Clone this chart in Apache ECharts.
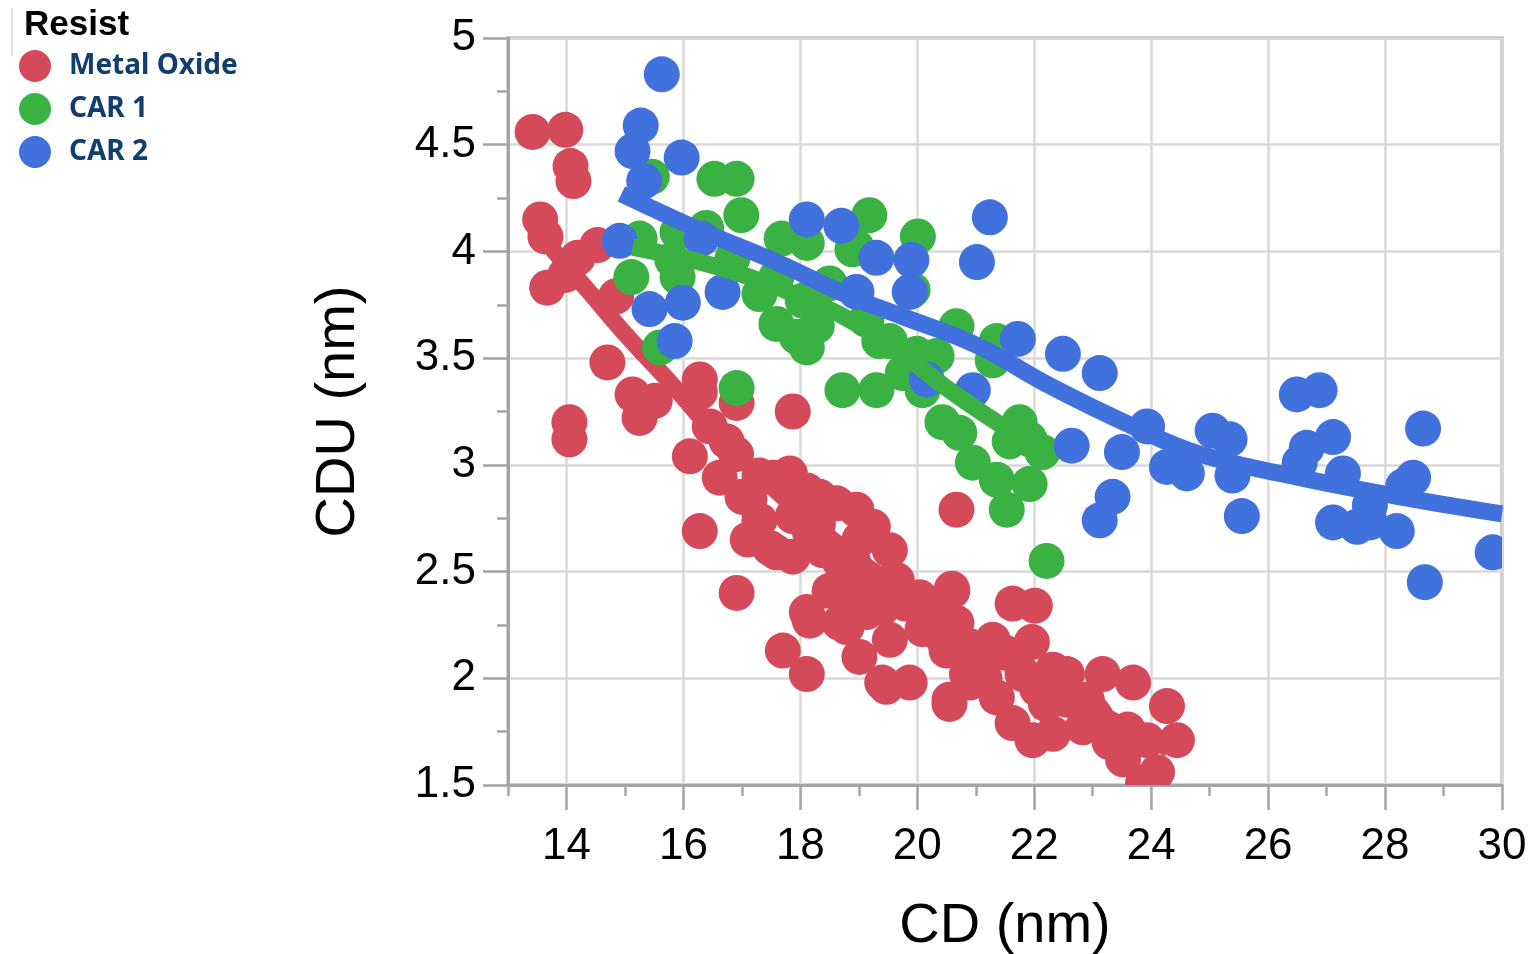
<!DOCTYPE html>
<html>
<head>
<meta charset="utf-8">
<script src="https://cdn.jsdelivr.net/npm/echarts@6/dist/echarts.min.js"></script>
<style>
html,body{margin:0;padding:0;background:#ffffff;}
#chart{width:1537px;height:954px;}
</style>
</head>
<body>
<div id="chart"></div>
<script>
// ---------- data ----------
const legendTitle = 'Resist';
const seriesNames = ['Metal Oxide', 'CAR 1', 'CAR 2'];
const xAxisTitle = 'CD (nm)';
const yAxisTitle = 'CDU (nm)';

const xMajorTicks = [14, 16, 18, 20, 22, 24, 26, 28, 30];
const xMinorTicks = [13, 15, 17, 19, 21, 23, 25, 27, 29];

const metalOxide = [
  [13.42,4.56],[13.98,4.57],[14.07,4.40],[14.12,4.33],[13.55,4.15],[13.64,4.07],[13.67,3.83],[13.98,3.89],
  [14.53,4.03],[14.19,3.97],[14.85,3.79],[14.70,3.48],[14.05,3.20],[14.05,3.12],[15.13,3.33],[15.25,3.22],
  [15.51,3.30],[16.28,3.40],[16.28,3.34],[16.91,3.29],[17.87,3.25],[16.11,3.04],[16.74,3.11],[16.62,2.94],
  [16.28,2.69],[17.10,2.65],[17.01,2.85],[16.91,2.40],[17.53,2.94],[17.82,2.96],[17.13,2.84],[17.87,2.76],
  [18.33,2.85],[18.62,2.82],[18.96,2.79],[19.18,2.68],[19.53,2.60],[19.58,2.46],[18.38,2.60],[17.87,2.57],
  [17.70,2.13],[18.11,2.02],[18.16,2.27],[18.67,2.26],[19.01,2.10],[19.40,1.98],[19.87,1.98],[18.84,2.41],
  [19.40,2.33],[20.21,2.32],[20.60,2.41],[20.55,1.90],[20.67,2.79],[21.63,2.35],[22.01,2.34],[21.96,2.17],
  [21.29,2.18],[21.36,1.91],[21.63,1.79],[21.97,1.71],[20.43,2.19],[20.09,2.23],[19.53,2.18],[20.16,2.33],
  [20.59,2.42],[20.67,2.26],[20.50,2.13],[22.32,2.04],[22.56,2.02],[22.32,1.74],[22.83,1.77],[23.17,2.02],
  [23.69,1.98],[23.29,1.70],[23.52,1.62],[24.27,1.87],[24.44,1.71],[24.10,1.56],[23.93,1.71],[23.86,1.51],
  [17.30,2.74],[17.48,2.61],[17.99,2.88],[18.16,2.69],[18.67,2.55],[19.01,2.65],[19.18,2.46],[18.50,2.41],
  [18.11,2.88],[19.24,2.71],[19.65,2.46],[17.59,2.59],[18.11,2.31],[20.04,2.38],[19.47,2.38],[19.13,2.31],
  [18.79,2.24],[19.47,1.96],[20.55,1.88],[22.90,1.90],[21.10,2.05],[20.90,1.98],
  [17.30,2.95],[18.30,2.72],[18.90,2.55],[19.80,2.35],[20.90,2.15],[21.80,2.02],[22.40,1.92],[23.00,1.84],
  [23.60,1.76],[22.10,1.98],[21.50,2.12],[16.90,3.05],[16.45,3.18],
  [20.85,2.02],[21.15,2.00],[22.55,1.90],[23.05,1.82],[23.55,1.74],[22.05,1.95],[22.20,1.88]
];

const car1 = [
  [15.46,4.35],[16.53,4.34],[16.91,4.34],[16.99,4.17],[19.18,4.17],[15.25,4.06],[15.90,4.09],[16.39,4.11],
  [17.68,4.06],[18.11,4.04],[15.11,3.88],[15.90,3.88],[15.81,3.96],[16.84,3.97],[17.30,3.80],[17.59,3.66],
  [17.94,3.60],[18.11,3.55],[18.28,3.65],[18.04,3.77],[18.50,3.85],[18.89,4.01],[19.35,3.58],[15.60,3.55],
  [16.91,3.36],[18.72,3.35],[19.30,3.35],[17.59,3.88],[20.01,4.07],[18.96,4.02],[19.92,3.82],[19.13,3.68],
  [19.53,3.58],[19.99,3.52],[20.33,3.51],[20.67,3.65],[21.36,3.58],[21.29,3.49],[19.75,3.43],[20.09,3.35],
  [20.43,3.20],[20.72,3.15],[20.95,3.01],[21.36,2.93],[21.53,2.79],[21.92,2.91],[21.75,3.20],[21.92,3.12],
  [21.58,3.11],[22.14,3.06],[22.21,2.55]
];

const car2 = [
  [15.63,4.83],[15.27,4.59],[15.13,4.47],[15.97,4.44],[15.33,4.33],[14.91,4.05],[16.31,4.06],[18.11,4.15],
  [18.70,4.12],[19.30,3.97],[19.90,3.96],[21.24,4.16],[21.02,3.95],[16.67,3.81],[15.42,3.73],[15.99,3.76],
  [15.85,3.58],[18.96,3.81],[19.87,3.81],[20.16,3.40],[20.95,3.35],[21.72,3.59],[22.49,3.52],[23.12,3.43],
  [22.64,3.09],[23.12,2.74],[23.34,2.85],[23.93,3.18],[23.50,3.06],[24.27,2.99],[24.61,2.96],[25.05,3.16],
  [25.34,3.12],[25.39,2.95],[25.55,2.76],[26.49,3.33],[26.88,3.35],[26.66,3.08],[26.54,3.01],[27.11,3.13],
  [27.28,2.96],[27.11,2.73],[27.52,2.71],[27.74,2.73],[27.74,2.81],[28.20,2.69],[28.31,2.90],[28.48,2.94],
  [28.65,3.17],[28.68,2.45],[29.84,2.59]
];

// smoother (fit) curves
const fitMetalOxide = [
  [13.76,4.01],[14.39,3.81],[15.08,3.59],[15.76,3.39],[16.60,3.13],[17.50,2.90],[18.50,2.66],
  [19.50,2.45],[20.50,2.26],[21.50,2.09],[22.50,1.93],[23.50,1.78],[24.30,1.67]
];
const fitCar1 = [
  [15.13,4.02],[16.28,3.95],[17.13,3.88],[17.99,3.79],[18.84,3.68],[19.70,3.53],[20.55,3.35],
  [21.41,3.19],[22.27,3.04]
];
const fitCar2 = [
  [14.94,4.27],[16.28,4.10],[17.59,3.95],[18.84,3.79],[19.70,3.70],[21.02,3.56],[22.27,3.37],
  [23.69,3.18],[24.83,3.05],[26.54,2.94],[28.25,2.85],[30.00,2.77]
];

// ---------- styling ----------
const COLORS = ['#d54a5a', '#3ab143', '#4171dd'];
const DOT_R = 18;
const AXIS_GRAY = '#a4a4a4';
const GRID_GRAY = '#d9d9d9';
const AXIS_FONT = 'Liberation Sans, Arial, sans-serif';

function dotSeries(name, data, color, z) {
  return {
    name: name,
    type: 'custom',
    data: data,
    z: z,
    clip: true,
    itemStyle: { color: color },
    encode: { x: 0, y: 1 },
    renderItem: function (params, api) {
      const p = api.coord([api.value(0), api.value(1)]);
      return {
        type: 'circle',
        shape: { cx: p[0], cy: p[1], r: DOT_R },
        style: { fill: color }
      };
    }
  };
}

function fitSeries(name, data, color, z) {
  return {
    name: name,
    type: 'line',
    data: data,
    z: z,
    smooth: 0.4,
    showSymbol: false,
    symbol: 'none',
    clip: true,
    lineStyle: { color: color, width: 17, cap: 'butt', join: 'round' },
    emphasis: { disabled: true }
  };
}

const chart = echarts.init(document.getElementById('chart'), null, { renderer: 'canvas' });

const option = {
  animation: false,
  backgroundColor: '#ffffff',
  title: {
    text: legendTitle,
    left: 19,
    top: 3,
    textStyle: { fontFamily: AXIS_FONT, fontSize: 35, fontWeight: 'bold', color: '#000000' }
  },
  legend: {
    data: seriesNames,
    orient: 'vertical',
    left: 19,
    top: 50,
    padding: 0,
    icon: 'circle',
    itemWidth: 32,
    itemHeight: 32,
    itemGap: 11,
    selectedMode: false,
    textStyle: {
      fontFamily: 'Noto Sans, sans-serif',
      fontSize: 28,
      fontWeight: 'bold',
      color: '#123e6e',
      padding: [0, 0, 0, 13]
    }
  },
  grid: {
    left: 508,
    right: 35,
    top: 38,
    bottom: 169,
    show: true,
    borderColor: AXIS_GRAY,
    borderWidth: 3,
    backgroundColor: 'transparent',
    containLabel: false,
    outerBoundsMode: 'none'
  },
  xAxis: [
    {
      type: 'value',
      min: 13,
      max: 30,
      interval: 1,
      position: 'bottom',
      name: xAxisTitle,
      nameLocation: 'middle',
      nameGap: 114,
      nameTextStyle: { fontFamily: AXIS_FONT, fontSize: 56, color: '#000000' },
      axisLine: { show: true, lineStyle: { color: AXIS_GRAY, width: 3 } },
      axisTick: { show: true, customValues: xMajorTicks, length: 25, lineStyle: { color: AXIS_GRAY, width: 2.5 } },
      axisLabel: {
        show: true, customValues: xMajorTicks, margin: 40,
        fontFamily: AXIS_FONT, fontSize: 44, color: '#000000'
      },
      splitLine: { show: true, lineStyle: { color: GRID_GRAY, width: 2.5 } },
      minorTick: { show: false },
      minorSplitLine: { show: false }
    },
    {
      type: 'value',
      min: 13,
      max: 30,
      interval: 1,
      position: 'bottom',
      axisLine: { show: false },
      axisTick: { show: true, customValues: xMinorTicks, length: 11, lineStyle: { color: AXIS_GRAY, width: 2.5 } },
      axisLabel: { show: false },
      splitLine: { show: false }
    }
  ],
  yAxis: {
    type: 'value',
    min: 1.5,
    max: 5,
    interval: 0.5,
    name: yAxisTitle,
    nameLocation: 'middle',
    nameGap: 141,
    nameTextStyle: { fontFamily: AXIS_FONT, fontSize: 56, color: '#000000' },
    axisLine: { show: true, lineStyle: { color: AXIS_GRAY, width: 3 } },
    axisTick: { show: true, length: 25, lineStyle: { color: AXIS_GRAY, width: 2.5 } },
    minorTick: { show: true, splitNumber: 2, length: 11, lineStyle: { color: AXIS_GRAY, width: 2.5 } },
    axisLabel: { margin: 32, fontFamily: AXIS_FONT, fontSize: 44, color: '#000000' },
    splitLine: { show: true, lineStyle: { color: GRID_GRAY, width: 2.5 } },
    minorSplitLine: { show: false }
  },
  graphic: [
    {
      type: 'line',
      shape: { x1: 12, y1: 8, x2: 12, y2: 56 },
      style: { stroke: '#d4d4d4', lineWidth: 1.5 },
      silent: true
    }
  ],
  series: [
    dotSeries(seriesNames[0], metalOxide, COLORS[0], 2),
    fitSeries('Metal Oxide fit', fitMetalOxide, COLORS[0], 3),
    dotSeries(seriesNames[1], car1, COLORS[1], 4),
    dotSeries(seriesNames[2], car2, COLORS[2], 5),
    fitSeries('CAR 1 fit', fitCar1, COLORS[1], 6),
    fitSeries('CAR 2 fit', fitCar2, COLORS[2], 7)
  ]
};

chart.setOption(option);
</script>
</body>
</html>
